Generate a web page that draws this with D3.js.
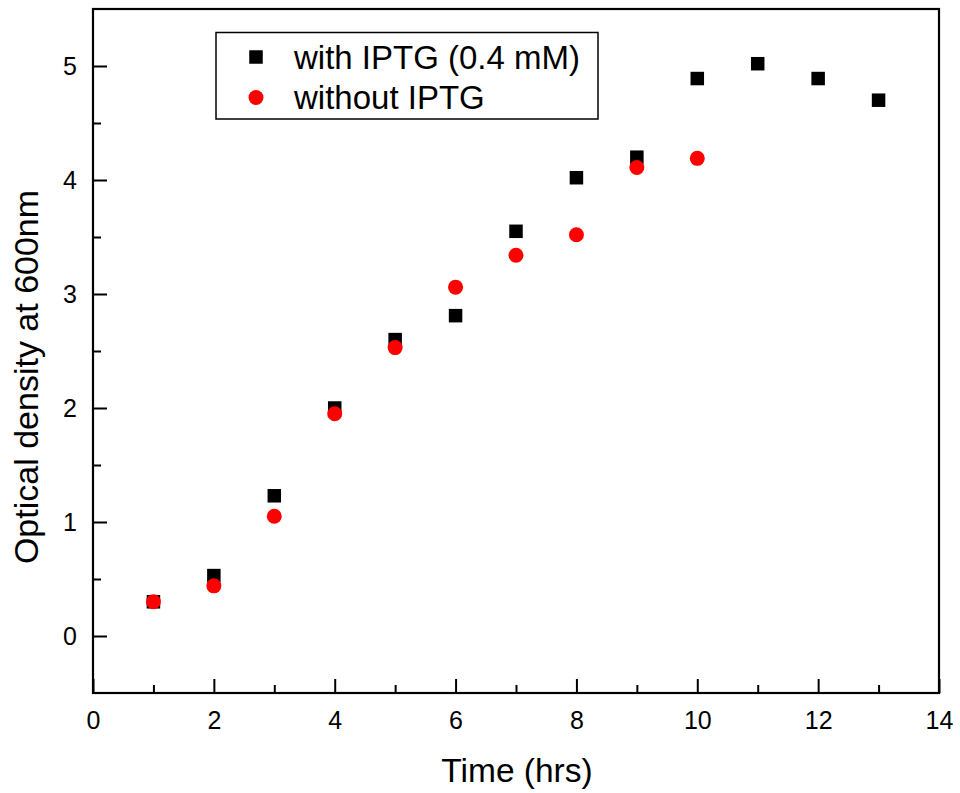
<!DOCTYPE html>
<html>
<head>
<meta charset="utf-8">
<script src="https://cdn.jsdelivr.net/npm/d3@7"></script>
<style>
  html, body { margin: 0; padding: 0; background: #fff; }
  svg { display: block; font-family: "Liberation Sans", Arial, sans-serif; }
</style>
</head>
<body>
<svg id="chart" width="960" height="793"></svg>
<script>
// Growth time points (hours)
const timeWith = [1, 2, 3, 4, 5, 6, 7, 8, 9, 10, 11, 12, 13];
const odWith = [0.30, 0.53, 1.23, 2.00, 2.60, 2.81, 3.55, 4.02, 4.20, 4.89, 5.02, 4.89, 4.70];
const timeWithout = [1, 2, 3, 4, 5, 6, 7, 8, 9, 10];
const odWithout = [0.30, 0.44, 1.05, 1.95, 2.53, 3.06, 3.34, 3.52, 4.11, 4.19];

const seriesNames = ["with IPTG (0.4 mM)", "without IPTG"];
const xMajorTicks = [0, 2, 4, 6, 8, 10, 12, 14];
const xMinorTicks = [1, 3, 5, 7, 9, 11, 13];
const yMajorTicks = [0, 1, 2, 3, 4, 5];
const yMinorTicks = [0.5, 1.5, 2.5, 3.5, 4.5];

const svg = d3.select("#chart");
const plotLeft = 93, plotRight = 939, plotTop = 9, plotBottom = 693;

const x = d3.scaleLinear().domain([0, 14]).range([plotLeft, plotRight]);
const y = d3.scaleLinear().domain([-0.5, 5.5]).range([plotBottom, plotTop]);

// Minor ticks (inward)
const xMinor = svg.append("g")
  .attr("transform", `translate(0,${plotBottom})`)
  .call(d3.axisBottom(x).tickValues(xMinorTicks).tickSize(-8).tickFormat(""));
const yMinor = svg.append("g")
  .attr("transform", `translate(${plotLeft},0)`)
  .call(d3.axisLeft(y).tickValues(yMinorTicks).tickSize(-8).tickFormat(""));

// Major ticks with labels
const xAxis = svg.append("g")
  .attr("transform", `translate(0,${plotBottom})`)
  .call(d3.axisBottom(x).tickValues(xMajorTicks).tickSize(-14).tickPadding(18).tickFormat(d3.format("d")));
const yAxis = svg.append("g")
  .attr("transform", `translate(${plotLeft},0)`)
  .call(d3.axisLeft(y).tickValues(yMajorTicks).tickSize(-14).tickPadding(16).tickFormat(d3.format("d")));

[xMinor, yMinor, xAxis, yAxis].forEach(g => {
  g.select(".domain").remove();
  g.selectAll(".tick line").attr("stroke", "#000").attr("stroke-width", 2);
});
[xAxis, yAxis].forEach(g => {
  g.selectAll(".tick text")
    .attr("fill", "#000")
    .style("font-size", "25px")
    .style("font-family", "'Liberation Sans', Arial, sans-serif");
});

// Plot frame
svg.append("rect")
  .attr("x", plotLeft).attr("y", plotTop)
  .attr("width", plotRight - plotLeft).attr("height", plotBottom - plotTop)
  .attr("fill", "none").attr("stroke", "#000").attr("stroke-width", 2.2);

// Axis titles
svg.append("text")
  .attr("x", (plotLeft + plotRight) / 2 + 1).attr("y", 782)
  .attr("text-anchor", "middle")
  .style("font-size", "33.5px")
  .text("Time (hrs)");

svg.append("text")
  .attr("transform", `translate(38,377) rotate(-90)`)
  .attr("text-anchor", "middle")
  .style("font-size", "34px")
  .text("Optical density at 600nm");

// Data: squares (with IPTG), then circles (without IPTG) on top
const sq = 13.5;
svg.append("g").selectAll("rect")
  .data(timeWith.map((t, i) => [t, odWith[i]]))
  .join("rect")
  .attr("x", d => x(d[0]) - sq / 2)
  .attr("y", d => y(d[1]) - sq / 2)
  .attr("width", sq).attr("height", sq)
  .attr("fill", "#000");

svg.append("g").selectAll("circle")
  .data(timeWithout.map((t, i) => [t, odWithout[i]]))
  .join("circle")
  .attr("cx", d => x(d[0]))
  .attr("cy", d => y(d[1]))
  .attr("r", 7.5)
  .attr("fill", "#ff0000");

// Legend
const legend = svg.append("g");
legend.append("rect")
  .attr("x", 216).attr("y", 32.5)
  .attr("width", 382).attr("height", 86.5)
  .attr("fill", "#fff").attr("stroke", "#000").attr("stroke-width", 1.5);
legend.append("rect")
  .attr("x", 256 - sq / 2).attr("y", 57 - sq / 2)
  .attr("width", sq).attr("height", sq).attr("fill", "#000");
legend.append("circle")
  .attr("cx", 256).attr("cy", 97.5).attr("r", 7.5).attr("fill", "#ff0000");
legend.append("text")
  .attr("x", 294).attr("y", 68.5)
  .style("font-size", "33px")
  .text(seriesNames[0]);
legend.append("text")
  .attr("x", 294).attr("y", 109)
  .style("font-size", "33px")
  .text(seriesNames[1]);
</script>
</body>
</html>
